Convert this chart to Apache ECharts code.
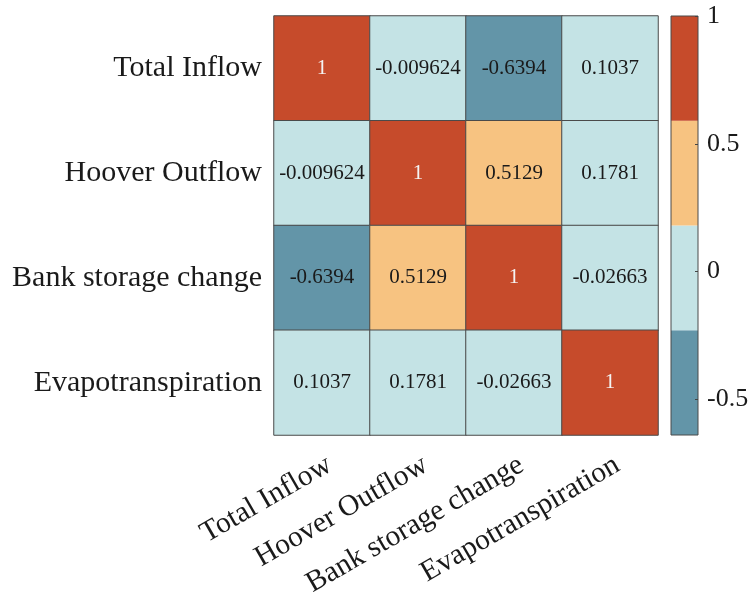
<!DOCTYPE html>
<html>
<head>
<meta charset="utf-8">
<script src="https://cdn.jsdelivr.net/npm/echarts@6/dist/echarts.min.js"></script>
<style>
  html, body { margin: 0; padding: 0; background: #fff; }
  #chart { width: 749px; height: 597px; }
</style>
</head>
<body>
<div id="chart"></div>
<script>
// Variables of the water balance, in row/column order
const variables = ['Total Inflow', 'Hoover Outflow', 'Bank storage change', 'Evapotranspiration'];

// Correlation matrix, one row per variable
const rowTotalInflow = [1, -0.009624, -0.6394, 0.1037];
const rowHooverOutflow = [-0.009624, 1, 0.5129, 0.1781];
const rowBankStorage = [-0.6394, 0.5129, 1, -0.02663];
const rowEvapotranspiration = [0.1037, 0.1781, -0.02663, 1];

// Colour scale: range split into four equal bins, low to high
const scaleMin = -0.6394;
const scaleMax = 1;
const binColors = ['#6395A8', '#C4E3E5', '#F7C381', '#C64B2B'];
const colorbarTicks = [-0.5, 0, 0.5, 1];

const rows = [rowTotalInflow, rowHooverOutflow, rowBankStorage, rowEvapotranspiration];
const cells = [];
rows.forEach((row, r) => row.forEach((v, c) => cells.push([c, r, v])));

const binWidth = (scaleMax - scaleMin) / binColors.length;
const bins = binColors.map((color, i) => {
  const lo = scaleMin + i * binWidth;
  const hi = i === binColors.length - 1 ? scaleMax : scaleMin + (i + 1) * binWidth;
  return { lo, hi, color, idx: i };
});
const pieces = bins.map((b, i) => i === bins.length - 1
  ? { gte: b.lo, lte: b.hi, color: b.color }
  : { gte: b.lo, lt: b.hi, color: b.color });

const FONT = '"Liberation Serif", "Times New Roman", serif';
const TEXT = '#1a1a1a';

const chart = echarts.init(document.getElementById('chart'), null, { renderer: 'canvas' });

chart.setOption({
  backgroundColor: '#fff',
  animation: false,
  grid: [
    { left: 274, right: 91, top: 16, bottom: 162, outerBoundsMode: 'none', containLabel: false },
    { left: 671, width: 27, top: 16, bottom: 162, outerBoundsMode: 'none', containLabel: false }
  ],
  xAxis: [
    {
      type: 'category', data: variables, gridIndex: 0,
      axisLine: { show: false }, axisTick: { show: false }, splitLine: { show: false },
      axisLabel: {
        rotate: 30, interval: 0, margin: 15, verticalAlign: 'top',
        fontFamily: FONT, fontSize: 29.5, color: TEXT
      }
    },
    { type: 'value', gridIndex: 1, min: 0, max: 1, show: false }
  ],
  yAxis: [
    {
      type: 'category', data: variables, gridIndex: 0, inverse: true,
      axisLine: { show: false }, axisTick: { show: false }, splitLine: { show: false },
      axisLabel: { margin: 12, padding: [6, 0, 0, 0], fontFamily: FONT, fontSize: 30, color: TEXT }
    },
    {
      type: 'value', gridIndex: 1, min: scaleMin, max: scaleMax, position: 'right',
      z: 10,
      splitLine: { show: false },
      axisLine: { show: false, onZero: false },
      axisTick: { show: true, inside: true, length: 3, customValues: colorbarTicks,
                  lineStyle: { color: '#444' } },
      axisLabel: { customValues: colorbarTicks, margin: 9, padding: [5, 0, 0, 0],
                   fontFamily: FONT, fontSize: 26, color: TEXT, formatter: v => String(v) }
    }
  ],
  visualMap: {
    type: 'piecewise', show: false, seriesIndex: 0, dimension: 2, pieces: pieces
  },
  series: [
    {
      type: 'heatmap', xAxisIndex: 0, yAxisIndex: 0,
      data: cells.map(d => d[2] === 1
        ? { value: d, label: { color: '#f4f4f4' } }   // white text on the dark red diagonal
        : d),
      itemStyle: { borderColor: '#4a4a4a', borderWidth: 1 },
      label: {
        show: true, fontFamily: FONT, fontSize: 21, padding: [6, 0, 0, 0],
        formatter: p => String(p.value[2]),
        color: TEXT
      },
      emphasis: { disabled: true }
    },
    {
      // colour bar pieces
      type: 'custom', xAxisIndex: 1, yAxisIndex: 1,
      data: bins.map(b => [b.lo, b.hi, b.idx]),
      renderItem: (params, api) => {
        const p0 = api.coord([0, api.value(1)]);
        const p1 = api.coord([1, api.value(0)]);
        return {
          type: 'rect',
          shape: { x: p0[0], y: p0[1], width: p1[0] - p0[0], height: p1[1] - p0[1] },
          style: { fill: binColors[api.value(2)] }
        };
      },
      silent: true, z: 2
    },
    {
      // colour bar frame
      type: 'custom', xAxisIndex: 1, yAxisIndex: 1,
      data: [[scaleMin, scaleMax]],
      renderItem: (params, api) => {
        const p0 = api.coord([0, api.value(1)]);
        const p1 = api.coord([1, api.value(0)]);
        return {
          type: 'rect',
          shape: { x: p0[0], y: p0[1], width: p1[0] - p0[0], height: p1[1] - p0[1] },
          style: { fill: 'none', stroke: '#4a4a4a', lineWidth: 1 }
        };
      },
      silent: true, z: 3
    }
  ]
});
</script>
</body>
</html>
